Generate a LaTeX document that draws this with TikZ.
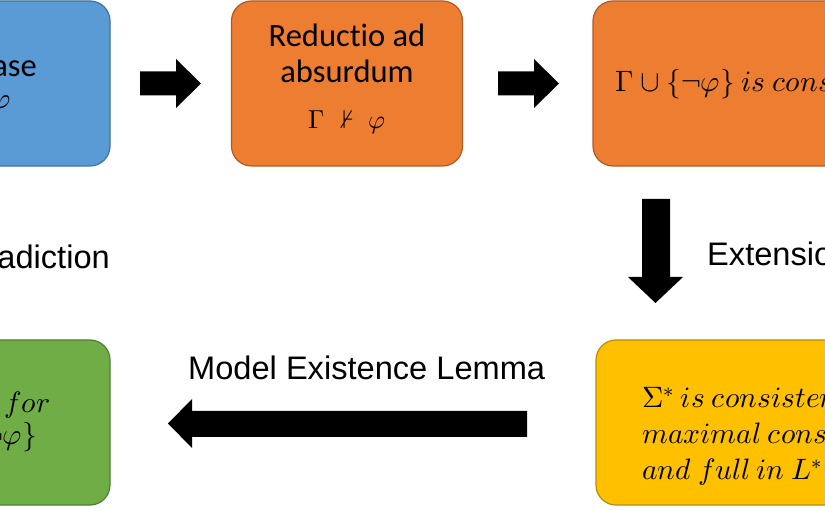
\documentclass[tikz,border=0pt]{standalone}
\usepackage{fontspec}
\usepackage{unicode-math}
\setmainfont{Carlito}[Ligatures=NoCommon]
\setmathfont{Latin Modern Math}
\newfontfamily\arialfont{Liberation Sans}
\definecolor{bluefill}{HTML}{5B9BD5}
\definecolor{blueline}{HTML}{41719C}
\definecolor{orangefill}{HTML}{ED7D31}
\definecolor{orangeline}{HTML}{AE5A21}
\definecolor{yellowfill}{HTML}{FFC000}
\definecolor{yellowline}{HTML}{BC8C00}
\definecolor{greenfill}{HTML}{70AD47}
\definecolor{greenline}{HTML}{507E32}
\tikzset{
  box/.style={rounded corners=20pt, line width=1.2pt, minimum width=#1, minimum height=165pt, inner sep=0pt},
  box/.default=231pt,
  blockarrow/.style={fill=black},
  calfont/.style={font=\fontsize{32.5}{38}\selectfont, inner sep=0pt},
  mathfont/.style={font=\fontsize{29.5}{35}\selectfont, inner sep=0pt},
  label/.style={font=\arialfont\fontsize{32.6}{38}\selectfont, inner sep=0pt},
}
\begin{document}
\begin{tikzpicture}[x=1pt,y=-1pt]
\useasboundingbox (0,0) rectangle (825,510);
\clip (0,0) rectangle (825,510);
\fill[white] (0,0) rectangle (825,510);
% boxes
\node[box, fill=bluefill, draw=blueline] (blue) at (-5.5,83.5) {};
\node[box, fill=orangefill, draw=orangeline] (rad) at (347,83.5) {};
\node[box=330pt, fill=orangefill, draw=orangeline] (cons) at (758,83.5) {};
\node[box=330pt, fill=yellowfill, draw=yellowline] (sigma) at (761,422.5) {};
\node[box, fill=greenfill, draw=greenline] (green) at (-5.5,422.5) {};
% texts in boxes
\node[calfont, anchor=base east] (bt1) at (37,77) {Base};
\node[mathfont, anchor=base east] (bt2) at (11,109) {$\Gamma\vDash\varphi$};
\node[calfont, anchor=base] (rt1) at (347,47) {Reductio ad};
\node[calfont, anchor=base] (rt2) at (347,83) {absurdum};
\node[font=\fontsize{26}{31}\selectfont, inner sep=0pt, anchor=base] (rt3) at (347,129) {$\Gamma\;\nvdash\;\varphi$};
\node[mathfont, anchor=base west] (ct1) at (615,92) {$\Gamma\cup\{\neg\varphi\}\ is\ consistent$};
\node[mathfont, anchor=base west] (st1) at (642,408) {$\Sigma^{*}\ is\ consistent,$};
\node[mathfont, anchor=base west] (st2) at (642,444) {$maximal\ consistent$};
\node[mathfont, anchor=base west] (st3) at (642,480) {$and\ full\ in\ L^{*}$};
\node[mathfont, anchor=base east] (gt1) at (50,413) {$there\ is\ a\ model\ for$};
\node[mathfont, anchor=base east] (gt2) at (37,445) {$\Gamma\cup\{\neg\varphi\}$};
% block arrows
\fill[blockarrow] (140,71.5) -- (176,71.5) -- (176,59) -- (201,83.5) -- (176,108) -- (176,95.5) -- (140,95.5) -- cycle;
\fill[blockarrow] (498,71.5) -- (534,71.5) -- (534,59) -- (559,83.5) -- (534,108) -- (534,95.5) -- (498,95.5) -- cycle;
\fill[blockarrow] (642,199) -- (670,199) -- (670,277) -- (683,277) -- (655.5,303) -- (628,277) -- (642,277) -- cycle;
\fill[blockarrow] (527,411) -- (192,411) -- (192,399) -- (168,423.5) -- (192,448) -- (192,437) -- (527,437) -- cycle;
% labels
\node[label, anchor=base east] (lc) at (110,269) {Contradiction};
\node[label, anchor=base west] (le) at (707,266) {Extension};
\node[label, anchor=base west] (lm) at (188,380) {Model Existence Lemma};
\end{tikzpicture}
\end{document}
